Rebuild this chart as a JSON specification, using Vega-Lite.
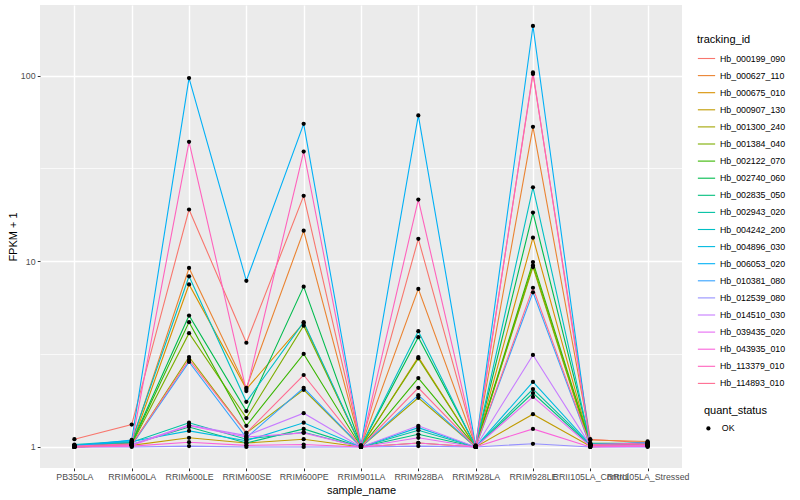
{
"$schema": "https://vega.github.io/schema/vega-lite/v6.json",
"width": 642, "height": 463,
"autosize": "none",
"padding": {"left": 40, "top": 5, "right": 118, "bottom": 32},
"background": "white",
"config": {
  "view": {"fill": "#EBEBEB", "stroke": null},
  "font": "Liberation Sans",
  "axis": {"domain": false, "grid": true, "gridColor": "white", "tickColor": "#333333", "tickSize": 2.75, "tickWidth": 1, "labelColor": "#4D4D4D", "labelFontSize": 8.8, "labelPadding": 2.2, "labelFont": "Liberation Sans", "titleFont": "Liberation Sans", "titleFontSize": 11, "titleFontWeight": "normal", "titleColor": "black"},
  "legend": {"titleFont": "Liberation Sans", "labelFont": "Liberation Sans", "titleFontSize": 11, "titleFontWeight": "normal", "titleColor": "black", "labelFontSize": 8.8, "labelColor": "black", "padding": 0}
},
"data": {"values": [
{"tracking_id":"Hb_000199_090","sample_name":"PB350LA","FPKM":1.10,"quant_status":"OK"},
{"tracking_id":"Hb_000199_090","sample_name":"RRIM600LA","FPKM":1.32,"quant_status":"OK"},
{"tracking_id":"Hb_000199_090","sample_name":"RRIM600LE","FPKM":19,"quant_status":"OK"},
{"tracking_id":"Hb_000199_090","sample_name":"RRIM600SE","FPKM":3.64,"quant_status":"OK"},
{"tracking_id":"Hb_000199_090","sample_name":"RRIM600PE","FPKM":22.5,"quant_status":"OK"},
{"tracking_id":"Hb_000199_090","sample_name":"RRIM901LA","FPKM":1.02,"quant_status":"OK"},
{"tracking_id":"Hb_000199_090","sample_name":"RRIM928BA","FPKM":13.2,"quant_status":"OK"},
{"tracking_id":"Hb_000199_090","sample_name":"RRIM928LA","FPKM":1.02,"quant_status":"OK"},
{"tracking_id":"Hb_000199_090","sample_name":"RRIM928LE","FPKM":102,"quant_status":"OK"},
{"tracking_id":"Hb_000199_090","sample_name":"RRII105LA_Control","FPKM":1.10,"quant_status":"OK"},
{"tracking_id":"Hb_000199_090","sample_name":"RRII105LA_Stressed","FPKM":1.05,"quant_status":"OK"},
{"tracking_id":"Hb_000627_110","sample_name":"PB350LA","FPKM":1.02,"quant_status":"OK"},
{"tracking_id":"Hb_000627_110","sample_name":"RRIM600LA","FPKM":1.06,"quant_status":"OK"},
{"tracking_id":"Hb_000627_110","sample_name":"RRIM600LE","FPKM":9.2,"quant_status":"OK"},
{"tracking_id":"Hb_000627_110","sample_name":"RRIM600SE","FPKM":2.08,"quant_status":"OK"},
{"tracking_id":"Hb_000627_110","sample_name":"RRIM600PE","FPKM":14.6,"quant_status":"OK"},
{"tracking_id":"Hb_000627_110","sample_name":"RRIM901LA","FPKM":1.01,"quant_status":"OK"},
{"tracking_id":"Hb_000627_110","sample_name":"RRIM928BA","FPKM":7.1,"quant_status":"OK"},
{"tracking_id":"Hb_000627_110","sample_name":"RRIM928LA","FPKM":1.01,"quant_status":"OK"},
{"tracking_id":"Hb_000627_110","sample_name":"RRIM928LE","FPKM":53,"quant_status":"OK"},
{"tracking_id":"Hb_000627_110","sample_name":"RRII105LA_Control","FPKM":1.09,"quant_status":"OK"},
{"tracking_id":"Hb_000627_110","sample_name":"RRII105LA_Stressed","FPKM":1.07,"quant_status":"OK"},
{"tracking_id":"Hb_000675_010","sample_name":"PB350LA","FPKM":1.0,"quant_status":"OK"},
{"tracking_id":"Hb_000675_010","sample_name":"RRIM600LA","FPKM":1.03,"quant_status":"OK"},
{"tracking_id":"Hb_000675_010","sample_name":"RRIM600LE","FPKM":7.5,"quant_status":"OK"},
{"tracking_id":"Hb_000675_010","sample_name":"RRIM600SE","FPKM":2.05,"quant_status":"OK"},
{"tracking_id":"Hb_000675_010","sample_name":"RRIM600PE","FPKM":4.65,"quant_status":"OK"},
{"tracking_id":"Hb_000675_010","sample_name":"RRIM901LA","FPKM":1.0,"quant_status":"OK"},
{"tracking_id":"Hb_000675_010","sample_name":"RRIM928BA","FPKM":3.05,"quant_status":"OK"},
{"tracking_id":"Hb_000675_010","sample_name":"RRIM928LA","FPKM":1.0,"quant_status":"OK"},
{"tracking_id":"Hb_000675_010","sample_name":"RRIM928LE","FPKM":13.4,"quant_status":"OK"},
{"tracking_id":"Hb_000675_010","sample_name":"RRII105LA_Control","FPKM":1.03,"quant_status":"OK"},
{"tracking_id":"Hb_000675_010","sample_name":"RRII105LA_Stressed","FPKM":1.04,"quant_status":"OK"},
{"tracking_id":"Hb_000907_130","sample_name":"PB350LA","FPKM":1.0,"quant_status":"OK"},
{"tracking_id":"Hb_000907_130","sample_name":"RRIM600LA","FPKM":1.02,"quant_status":"OK"},
{"tracking_id":"Hb_000907_130","sample_name":"RRIM600LE","FPKM":1.12,"quant_status":"OK"},
{"tracking_id":"Hb_000907_130","sample_name":"RRIM600SE","FPKM":1.05,"quant_status":"OK"},
{"tracking_id":"Hb_000907_130","sample_name":"RRIM600PE","FPKM":1.1,"quant_status":"OK"},
{"tracking_id":"Hb_000907_130","sample_name":"RRIM901LA","FPKM":1.0,"quant_status":"OK"},
{"tracking_id":"Hb_000907_130","sample_name":"RRIM928BA","FPKM":1.05,"quant_status":"OK"},
{"tracking_id":"Hb_000907_130","sample_name":"RRIM928LA","FPKM":1.0,"quant_status":"OK"},
{"tracking_id":"Hb_000907_130","sample_name":"RRIM928LE","FPKM":1.5,"quant_status":"OK"},
{"tracking_id":"Hb_000907_130","sample_name":"RRII105LA_Control","FPKM":1.01,"quant_status":"OK"},
{"tracking_id":"Hb_000907_130","sample_name":"RRII105LA_Stressed","FPKM":1.02,"quant_status":"OK"},
{"tracking_id":"Hb_001300_240","sample_name":"PB350LA","FPKM":1.0,"quant_status":"OK"},
{"tracking_id":"Hb_001300_240","sample_name":"RRIM600LA","FPKM":1.02,"quant_status":"OK"},
{"tracking_id":"Hb_001300_240","sample_name":"RRIM600LE","FPKM":3.05,"quant_status":"OK"},
{"tracking_id":"Hb_001300_240","sample_name":"RRIM600SE","FPKM":1.19,"quant_status":"OK"},
{"tracking_id":"Hb_001300_240","sample_name":"RRIM600PE","FPKM":2.03,"quant_status":"OK"},
{"tracking_id":"Hb_001300_240","sample_name":"RRIM901LA","FPKM":1.0,"quant_status":"OK"},
{"tracking_id":"Hb_001300_240","sample_name":"RRIM928BA","FPKM":1.84,"quant_status":"OK"},
{"tracking_id":"Hb_001300_240","sample_name":"RRIM928LA","FPKM":1.0,"quant_status":"OK"},
{"tracking_id":"Hb_001300_240","sample_name":"RRIM928LE","FPKM":9.3,"quant_status":"OK"},
{"tracking_id":"Hb_001300_240","sample_name":"RRII105LA_Control","FPKM":1.0,"quant_status":"OK"},
{"tracking_id":"Hb_001300_240","sample_name":"RRII105LA_Stressed","FPKM":1.03,"quant_status":"OK"},
{"tracking_id":"Hb_001384_040","sample_name":"PB350LA","FPKM":1.01,"quant_status":"OK"},
{"tracking_id":"Hb_001384_040","sample_name":"RRIM600LA","FPKM":1.03,"quant_status":"OK"},
{"tracking_id":"Hb_001384_040","sample_name":"RRIM600LE","FPKM":4.1,"quant_status":"OK"},
{"tracking_id":"Hb_001384_040","sample_name":"RRIM600SE","FPKM":1.43,"quant_status":"OK"},
{"tracking_id":"Hb_001384_040","sample_name":"RRIM600PE","FPKM":4.5,"quant_status":"OK"},
{"tracking_id":"Hb_001384_040","sample_name":"RRIM901LA","FPKM":1.01,"quant_status":"OK"},
{"tracking_id":"Hb_001384_040","sample_name":"RRIM928BA","FPKM":3.0,"quant_status":"OK"},
{"tracking_id":"Hb_001384_040","sample_name":"RRIM928LA","FPKM":1.0,"quant_status":"OK"},
{"tracking_id":"Hb_001384_040","sample_name":"RRIM928LE","FPKM":9.5,"quant_status":"OK"},
{"tracking_id":"Hb_001384_040","sample_name":"RRII105LA_Control","FPKM":1.02,"quant_status":"OK"},
{"tracking_id":"Hb_001384_040","sample_name":"RRII105LA_Stressed","FPKM":1.03,"quant_status":"OK"},
{"tracking_id":"Hb_002122_070","sample_name":"PB350LA","FPKM":1.0,"quant_status":"OK"},
{"tracking_id":"Hb_002122_070","sample_name":"RRIM600LA","FPKM":1.04,"quant_status":"OK"},
{"tracking_id":"Hb_002122_070","sample_name":"RRIM600LE","FPKM":4.7,"quant_status":"OK"},
{"tracking_id":"Hb_002122_070","sample_name":"RRIM600SE","FPKM":1.3,"quant_status":"OK"},
{"tracking_id":"Hb_002122_070","sample_name":"RRIM600PE","FPKM":3.17,"quant_status":"OK"},
{"tracking_id":"Hb_002122_070","sample_name":"RRIM901LA","FPKM":1.0,"quant_status":"OK"},
{"tracking_id":"Hb_002122_070","sample_name":"RRIM928BA","FPKM":2.35,"quant_status":"OK"},
{"tracking_id":"Hb_002122_070","sample_name":"RRIM928LA","FPKM":1.0,"quant_status":"OK"},
{"tracking_id":"Hb_002122_070","sample_name":"RRIM928LE","FPKM":9.9,"quant_status":"OK"},
{"tracking_id":"Hb_002122_070","sample_name":"RRII105LA_Control","FPKM":1.04,"quant_status":"OK"},
{"tracking_id":"Hb_002122_070","sample_name":"RRII105LA_Stressed","FPKM":1.02,"quant_status":"OK"},
{"tracking_id":"Hb_002740_060","sample_name":"PB350LA","FPKM":1.01,"quant_status":"OK"},
{"tracking_id":"Hb_002740_060","sample_name":"RRIM600LA","FPKM":1.05,"quant_status":"OK"},
{"tracking_id":"Hb_002740_060","sample_name":"RRIM600LE","FPKM":5.1,"quant_status":"OK"},
{"tracking_id":"Hb_002740_060","sample_name":"RRIM600SE","FPKM":1.56,"quant_status":"OK"},
{"tracking_id":"Hb_002740_060","sample_name":"RRIM600PE","FPKM":7.3,"quant_status":"OK"},
{"tracking_id":"Hb_002740_060","sample_name":"RRIM901LA","FPKM":1.01,"quant_status":"OK"},
{"tracking_id":"Hb_002740_060","sample_name":"RRIM928BA","FPKM":3.9,"quant_status":"OK"},
{"tracking_id":"Hb_002740_060","sample_name":"RRIM928LA","FPKM":1.01,"quant_status":"OK"},
{"tracking_id":"Hb_002740_060","sample_name":"RRIM928LE","FPKM":18.3,"quant_status":"OK"},
{"tracking_id":"Hb_002740_060","sample_name":"RRII105LA_Control","FPKM":1.05,"quant_status":"OK"},
{"tracking_id":"Hb_002740_060","sample_name":"RRII105LA_Stressed","FPKM":1.04,"quant_status":"OK"},
{"tracking_id":"Hb_002835_050","sample_name":"PB350LA","FPKM":1.0,"quant_status":"OK"},
{"tracking_id":"Hb_002835_050","sample_name":"RRIM600LA","FPKM":1.03,"quant_status":"OK"},
{"tracking_id":"Hb_002835_050","sample_name":"RRIM600LE","FPKM":1.28,"quant_status":"OK"},
{"tracking_id":"Hb_002835_050","sample_name":"RRIM600SE","FPKM":1.05,"quant_status":"OK"},
{"tracking_id":"Hb_002835_050","sample_name":"RRIM600PE","FPKM":1.25,"quant_status":"OK"},
{"tracking_id":"Hb_002835_050","sample_name":"RRIM901LA","FPKM":1.0,"quant_status":"OK"},
{"tracking_id":"Hb_002835_050","sample_name":"RRIM928BA","FPKM":1.17,"quant_status":"OK"},
{"tracking_id":"Hb_002835_050","sample_name":"RRIM928LA","FPKM":1.0,"quant_status":"OK"},
{"tracking_id":"Hb_002835_050","sample_name":"RRIM928LE","FPKM":1.95,"quant_status":"OK"},
{"tracking_id":"Hb_002835_050","sample_name":"RRII105LA_Control","FPKM":1.02,"quant_status":"OK"},
{"tracking_id":"Hb_002835_050","sample_name":"RRII105LA_Stressed","FPKM":1.02,"quant_status":"OK"},
{"tracking_id":"Hb_002943_020","sample_name":"PB350LA","FPKM":1.02,"quant_status":"OK"},
{"tracking_id":"Hb_002943_020","sample_name":"RRIM600LA","FPKM":1.06,"quant_status":"OK"},
{"tracking_id":"Hb_002943_020","sample_name":"RRIM600LE","FPKM":1.35,"quant_status":"OK"},
{"tracking_id":"Hb_002943_020","sample_name":"RRIM600SE","FPKM":1.1,"quant_status":"OK"},
{"tracking_id":"Hb_002943_020","sample_name":"RRIM600PE","FPKM":1.2,"quant_status":"OK"},
{"tracking_id":"Hb_002943_020","sample_name":"RRIM901LA","FPKM":1.0,"quant_status":"OK"},
{"tracking_id":"Hb_002943_020","sample_name":"RRIM928BA","FPKM":1.23,"quant_status":"OK"},
{"tracking_id":"Hb_002943_020","sample_name":"RRIM928LA","FPKM":1.0,"quant_status":"OK"},
{"tracking_id":"Hb_002943_020","sample_name":"RRIM928LE","FPKM":2.05,"quant_status":"OK"},
{"tracking_id":"Hb_002943_020","sample_name":"RRII105LA_Control","FPKM":1.03,"quant_status":"OK"},
{"tracking_id":"Hb_002943_020","sample_name":"RRII105LA_Stressed","FPKM":1.03,"quant_status":"OK"},
{"tracking_id":"Hb_004242_200","sample_name":"PB350LA","FPKM":1.03,"quant_status":"OK"},
{"tracking_id":"Hb_004242_200","sample_name":"RRIM600LA","FPKM":1.08,"quant_status":"OK"},
{"tracking_id":"Hb_004242_200","sample_name":"RRIM600LE","FPKM":8.3,"quant_status":"OK"},
{"tracking_id":"Hb_004242_200","sample_name":"RRIM600SE","FPKM":1.75,"quant_status":"OK"},
{"tracking_id":"Hb_004242_200","sample_name":"RRIM600PE","FPKM":4.7,"quant_status":"OK"},
{"tracking_id":"Hb_004242_200","sample_name":"RRIM901LA","FPKM":1.01,"quant_status":"OK"},
{"tracking_id":"Hb_004242_200","sample_name":"RRIM928BA","FPKM":4.2,"quant_status":"OK"},
{"tracking_id":"Hb_004242_200","sample_name":"RRIM928LA","FPKM":1.0,"quant_status":"OK"},
{"tracking_id":"Hb_004242_200","sample_name":"RRIM928LE","FPKM":25,"quant_status":"OK"},
{"tracking_id":"Hb_004242_200","sample_name":"RRII105LA_Control","FPKM":1.04,"quant_status":"OK"},
{"tracking_id":"Hb_004242_200","sample_name":"RRII105LA_Stressed","FPKM":1.05,"quant_status":"OK"},
{"tracking_id":"Hb_004896_030","sample_name":"PB350LA","FPKM":1.02,"quant_status":"OK"},
{"tracking_id":"Hb_004896_030","sample_name":"RRIM600LA","FPKM":1.07,"quant_status":"OK"},
{"tracking_id":"Hb_004896_030","sample_name":"RRIM600LE","FPKM":1.22,"quant_status":"OK"},
{"tracking_id":"Hb_004896_030","sample_name":"RRIM600SE","FPKM":1.08,"quant_status":"OK"},
{"tracking_id":"Hb_004896_030","sample_name":"RRIM600PE","FPKM":1.35,"quant_status":"OK"},
{"tracking_id":"Hb_004896_030","sample_name":"RRIM901LA","FPKM":1.0,"quant_status":"OK"},
{"tracking_id":"Hb_004896_030","sample_name":"RRIM928BA","FPKM":1.27,"quant_status":"OK"},
{"tracking_id":"Hb_004896_030","sample_name":"RRIM928LA","FPKM":1.0,"quant_status":"OK"},
{"tracking_id":"Hb_004896_030","sample_name":"RRIM928LE","FPKM":2.24,"quant_status":"OK"},
{"tracking_id":"Hb_004896_030","sample_name":"RRII105LA_Control","FPKM":1.03,"quant_status":"OK"},
{"tracking_id":"Hb_004896_030","sample_name":"RRII105LA_Stressed","FPKM":1.04,"quant_status":"OK"},
{"tracking_id":"Hb_006053_020","sample_name":"PB350LA","FPKM":1.01,"quant_status":"OK"},
{"tracking_id":"Hb_006053_020","sample_name":"RRIM600LA","FPKM":1.09,"quant_status":"OK"},
{"tracking_id":"Hb_006053_020","sample_name":"RRIM600LE","FPKM":97,"quant_status":"OK"},
{"tracking_id":"Hb_006053_020","sample_name":"RRIM600SE","FPKM":7.85,"quant_status":"OK"},
{"tracking_id":"Hb_006053_020","sample_name":"RRIM600PE","FPKM":55,"quant_status":"OK"},
{"tracking_id":"Hb_006053_020","sample_name":"RRIM901LA","FPKM":1.02,"quant_status":"OK"},
{"tracking_id":"Hb_006053_020","sample_name":"RRIM928BA","FPKM":61,"quant_status":"OK"},
{"tracking_id":"Hb_006053_020","sample_name":"RRIM928LA","FPKM":1.01,"quant_status":"OK"},
{"tracking_id":"Hb_006053_020","sample_name":"RRIM928LE","FPKM":185,"quant_status":"OK"},
{"tracking_id":"Hb_006053_020","sample_name":"RRII105LA_Control","FPKM":1.02,"quant_status":"OK"},
{"tracking_id":"Hb_006053_020","sample_name":"RRII105LA_Stressed","FPKM":1.06,"quant_status":"OK"},
{"tracking_id":"Hb_010381_080","sample_name":"PB350LA","FPKM":1.0,"quant_status":"OK"},
{"tracking_id":"Hb_010381_080","sample_name":"RRIM600LA","FPKM":1.02,"quant_status":"OK"},
{"tracking_id":"Hb_010381_080","sample_name":"RRIM600LE","FPKM":2.87,"quant_status":"OK"},
{"tracking_id":"Hb_010381_080","sample_name":"RRIM600SE","FPKM":1.12,"quant_status":"OK"},
{"tracking_id":"Hb_010381_080","sample_name":"RRIM600PE","FPKM":2.08,"quant_status":"OK"},
{"tracking_id":"Hb_010381_080","sample_name":"RRIM901LA","FPKM":1.0,"quant_status":"OK"},
{"tracking_id":"Hb_010381_080","sample_name":"RRIM928BA","FPKM":1.9,"quant_status":"OK"},
{"tracking_id":"Hb_010381_080","sample_name":"RRIM928LA","FPKM":1.0,"quant_status":"OK"},
{"tracking_id":"Hb_010381_080","sample_name":"RRIM928LE","FPKM":6.8,"quant_status":"OK"},
{"tracking_id":"Hb_010381_080","sample_name":"RRII105LA_Control","FPKM":1.01,"quant_status":"OK"},
{"tracking_id":"Hb_010381_080","sample_name":"RRII105LA_Stressed","FPKM":1.01,"quant_status":"OK"},
{"tracking_id":"Hb_012539_080","sample_name":"PB350LA","FPKM":1.0,"quant_status":"OK"},
{"tracking_id":"Hb_012539_080","sample_name":"RRIM600LA","FPKM":1.0,"quant_status":"OK"},
{"tracking_id":"Hb_012539_080","sample_name":"RRIM600LE","FPKM":1.01,"quant_status":"OK"},
{"tracking_id":"Hb_012539_080","sample_name":"RRIM600SE","FPKM":1.0,"quant_status":"OK"},
{"tracking_id":"Hb_012539_080","sample_name":"RRIM600PE","FPKM":1.0,"quant_status":"OK"},
{"tracking_id":"Hb_012539_080","sample_name":"RRIM901LA","FPKM":1.0,"quant_status":"OK"},
{"tracking_id":"Hb_012539_080","sample_name":"RRIM928BA","FPKM":1.01,"quant_status":"OK"},
{"tracking_id":"Hb_012539_080","sample_name":"RRIM928LA","FPKM":1.0,"quant_status":"OK"},
{"tracking_id":"Hb_012539_080","sample_name":"RRIM928LE","FPKM":1.04,"quant_status":"OK"},
{"tracking_id":"Hb_012539_080","sample_name":"RRII105LA_Control","FPKM":1.0,"quant_status":"OK"},
{"tracking_id":"Hb_012539_080","sample_name":"RRII105LA_Stressed","FPKM":1.0,"quant_status":"OK"},
{"tracking_id":"Hb_014510_030","sample_name":"PB350LA","FPKM":1.0,"quant_status":"OK"},
{"tracking_id":"Hb_014510_030","sample_name":"RRIM600LA","FPKM":1.03,"quant_status":"OK"},
{"tracking_id":"Hb_014510_030","sample_name":"RRIM600LE","FPKM":1.31,"quant_status":"OK"},
{"tracking_id":"Hb_014510_030","sample_name":"RRIM600SE","FPKM":1.15,"quant_status":"OK"},
{"tracking_id":"Hb_014510_030","sample_name":"RRIM600PE","FPKM":1.52,"quant_status":"OK"},
{"tracking_id":"Hb_014510_030","sample_name":"RRIM901LA","FPKM":1.0,"quant_status":"OK"},
{"tracking_id":"Hb_014510_030","sample_name":"RRIM928BA","FPKM":1.3,"quant_status":"OK"},
{"tracking_id":"Hb_014510_030","sample_name":"RRIM928LA","FPKM":1.0,"quant_status":"OK"},
{"tracking_id":"Hb_014510_030","sample_name":"RRIM928LE","FPKM":3.13,"quant_status":"OK"},
{"tracking_id":"Hb_014510_030","sample_name":"RRII105LA_Control","FPKM":1.02,"quant_status":"OK"},
{"tracking_id":"Hb_014510_030","sample_name":"RRII105LA_Stressed","FPKM":1.02,"quant_status":"OK"},
{"tracking_id":"Hb_039435_020","sample_name":"PB350LA","FPKM":1.0,"quant_status":"OK"},
{"tracking_id":"Hb_039435_020","sample_name":"RRIM600LA","FPKM":1.02,"quant_status":"OK"},
{"tracking_id":"Hb_039435_020","sample_name":"RRIM600LE","FPKM":1.3,"quant_status":"OK"},
{"tracking_id":"Hb_039435_020","sample_name":"RRIM600SE","FPKM":1.13,"quant_status":"OK"},
{"tracking_id":"Hb_039435_020","sample_name":"RRIM600PE","FPKM":1.19,"quant_status":"OK"},
{"tracking_id":"Hb_039435_020","sample_name":"RRIM901LA","FPKM":1.0,"quant_status":"OK"},
{"tracking_id":"Hb_039435_020","sample_name":"RRIM928BA","FPKM":1.12,"quant_status":"OK"},
{"tracking_id":"Hb_039435_020","sample_name":"RRIM928LA","FPKM":1.0,"quant_status":"OK"},
{"tracking_id":"Hb_039435_020","sample_name":"RRIM928LE","FPKM":1.86,"quant_status":"OK"},
{"tracking_id":"Hb_039435_020","sample_name":"RRII105LA_Control","FPKM":1.01,"quant_status":"OK"},
{"tracking_id":"Hb_039435_020","sample_name":"RRII105LA_Stressed","FPKM":1.01,"quant_status":"OK"},
{"tracking_id":"Hb_043935_010","sample_name":"PB350LA","FPKM":1.0,"quant_status":"OK"},
{"tracking_id":"Hb_043935_010","sample_name":"RRIM600LA","FPKM":1.01,"quant_status":"OK"},
{"tracking_id":"Hb_043935_010","sample_name":"RRIM600LE","FPKM":1.06,"quant_status":"OK"},
{"tracking_id":"Hb_043935_010","sample_name":"RRIM600SE","FPKM":1.02,"quant_status":"OK"},
{"tracking_id":"Hb_043935_010","sample_name":"RRIM600PE","FPKM":1.03,"quant_status":"OK"},
{"tracking_id":"Hb_043935_010","sample_name":"RRIM901LA","FPKM":1.0,"quant_status":"OK"},
{"tracking_id":"Hb_043935_010","sample_name":"RRIM928BA","FPKM":1.05,"quant_status":"OK"},
{"tracking_id":"Hb_043935_010","sample_name":"RRIM928LA","FPKM":1.0,"quant_status":"OK"},
{"tracking_id":"Hb_043935_010","sample_name":"RRIM928LE","FPKM":1.25,"quant_status":"OK"},
{"tracking_id":"Hb_043935_010","sample_name":"RRII105LA_Control","FPKM":1.0,"quant_status":"OK"},
{"tracking_id":"Hb_043935_010","sample_name":"RRII105LA_Stressed","FPKM":1.01,"quant_status":"OK"},
{"tracking_id":"Hb_113379_010","sample_name":"PB350LA","FPKM":1.01,"quant_status":"OK"},
{"tracking_id":"Hb_113379_010","sample_name":"RRIM600LA","FPKM":1.04,"quant_status":"OK"},
{"tracking_id":"Hb_113379_010","sample_name":"RRIM600LE","FPKM":44,"quant_status":"OK"},
{"tracking_id":"Hb_113379_010","sample_name":"RRIM600SE","FPKM":2.0,"quant_status":"OK"},
{"tracking_id":"Hb_113379_010","sample_name":"RRIM600PE","FPKM":39,"quant_status":"OK"},
{"tracking_id":"Hb_113379_010","sample_name":"RRIM901LA","FPKM":1.01,"quant_status":"OK"},
{"tracking_id":"Hb_113379_010","sample_name":"RRIM928BA","FPKM":21.5,"quant_status":"OK"},
{"tracking_id":"Hb_113379_010","sample_name":"RRIM928LA","FPKM":1.0,"quant_status":"OK"},
{"tracking_id":"Hb_113379_010","sample_name":"RRIM928LE","FPKM":104,"quant_status":"OK"},
{"tracking_id":"Hb_113379_010","sample_name":"RRII105LA_Control","FPKM":1.03,"quant_status":"OK"},
{"tracking_id":"Hb_113379_010","sample_name":"RRII105LA_Stressed","FPKM":1.05,"quant_status":"OK"},
{"tracking_id":"Hb_114893_010","sample_name":"PB350LA","FPKM":1.0,"quant_status":"OK"},
{"tracking_id":"Hb_114893_010","sample_name":"RRIM600LA","FPKM":1.03,"quant_status":"OK"},
{"tracking_id":"Hb_114893_010","sample_name":"RRIM600LE","FPKM":2.95,"quant_status":"OK"},
{"tracking_id":"Hb_114893_010","sample_name":"RRIM600SE","FPKM":1.19,"quant_status":"OK"},
{"tracking_id":"Hb_114893_010","sample_name":"RRIM600PE","FPKM":2.44,"quant_status":"OK"},
{"tracking_id":"Hb_114893_010","sample_name":"RRIM901LA","FPKM":1.0,"quant_status":"OK"},
{"tracking_id":"Hb_114893_010","sample_name":"RRIM928BA","FPKM":2.08,"quant_status":"OK"},
{"tracking_id":"Hb_114893_010","sample_name":"RRIM928LA","FPKM":1.0,"quant_status":"OK"},
{"tracking_id":"Hb_114893_010","sample_name":"RRIM928LE","FPKM":7.2,"quant_status":"OK"},
{"tracking_id":"Hb_114893_010","sample_name":"RRII105LA_Control","FPKM":1.02,"quant_status":"OK"},
{"tracking_id":"Hb_114893_010","sample_name":"RRII105LA_Stressed","FPKM":1.03,"quant_status":"OK"}
]},
"encoding": {
  "x": {"field": "sample_name", "type": "nominal", "title": "sample_name",
        "scale": {"type": "point", "padding": 0.6, "domain": ["PB350LA","RRIM600LA","RRIM600LE","RRIM600SE","RRIM600PE","RRIM901LA","RRIM928BA","RRIM928LA","RRIM928LE","RRII105LA_Control","RRII105LA_Stressed"]},
        "axis": {"labelAngle": 0, "labelOverlap": false, "labelBound": false, "labelFlush": false, "gridWidth": 1.4, "titlePadding": 3}},
  "y": {"field": "FPKM", "type": "quantitative", "title": "FPKM + 1",
        "scale": {"type": "log", "domain": [0.77, 240], "nice": false},
        "axis": {"values": [1, 3.1623, 10, 31.623, 100],
                 "labelExpr": "abs(log(datum.value)/LN10 - round(log(datum.value)/LN10)) < 0.01 ? format(datum.value, 'd') : ''",
                 "gridWidth": {"condition": {"test": "abs(log(datum.value)/LN10 - round(log(datum.value)/LN10)) < 0.01", "value": 1.4}, "value": 0.7},
                 "tickColor": {"condition": {"test": "abs(log(datum.value)/LN10 - round(log(datum.value)/LN10)) < 0.01", "value": "#333333"}, "value": "transparent"},
                 "titlePadding": 2}}
},
"layer": [
  {"mark": {"type": "line", "strokeWidth": 1.1},
   "encoding": {"color": {"field": "tracking_id", "type": "nominal",
      "scale": {"domain": ["Hb_000199_090","Hb_000627_110","Hb_000675_010","Hb_000907_130","Hb_001300_240","Hb_001384_040","Hb_002122_070","Hb_002740_060","Hb_002835_050","Hb_002943_020","Hb_004242_200","Hb_004896_030","Hb_006053_020","Hb_010381_080","Hb_012539_080","Hb_014510_030","Hb_039435_020","Hb_043935_010","Hb_113379_010","Hb_114893_010"],
                "range": ["#F8766D","#EA8331","#D89000","#C09B00","#A3A500","#7CAE00","#39B600","#00BB4E","#00BF7D","#00C1A3","#00BFC4","#00BAE0","#00B0F6","#35A2FF","#9590FF","#C77CFF","#E76BF3","#FA62DB","#FF62BC","#FF6C91"]},
      "legend": {"title": "tracking_id", "orient": "none", "legendX": 657, "legendY": 29, "symbolType": "stroke", "symbolSize": 298, "symbolStrokeWidth": 1.1, "titlePadding": 4, "rowPadding": 2.1, "labelOffset": 4}}}},
  {"mark": {"type": "point", "filled": true, "color": "black", "size": 18, "opacity": 1},
   "encoding": {"shape": {"field": "quant_status", "type": "nominal", "scale": {"range": ["circle"]},
      "legend": {"title": "quant_status", "orient": "none", "legendX": 664, "legendY": 400, "symbolSize": 18, "symbolFillColor": "black", "symbolStrokeColor": "black", "titlePadding": 8, "labelOffset": 9}}}}
]
}
